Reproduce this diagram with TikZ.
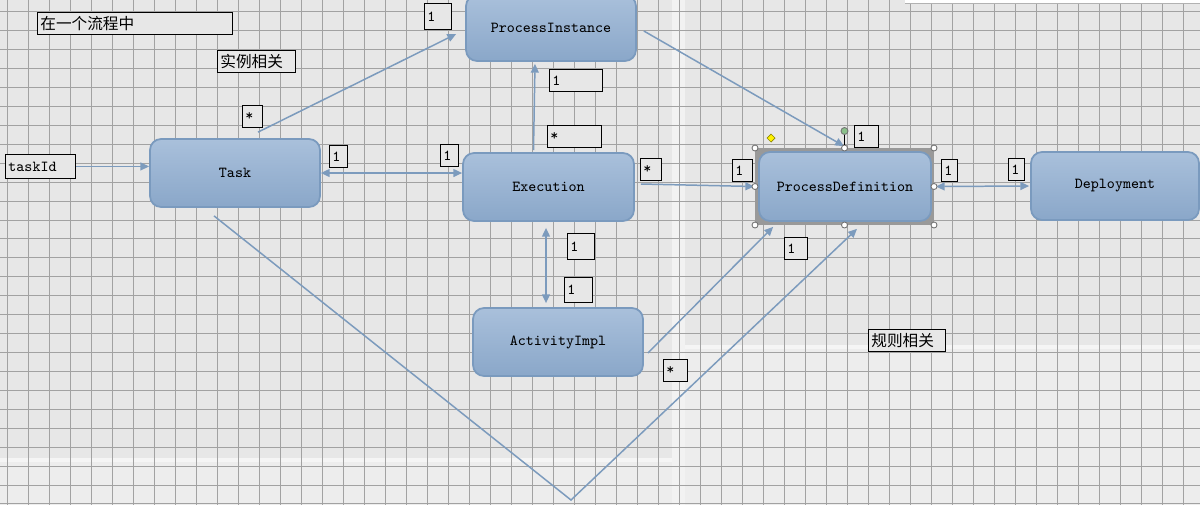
\documentclass[tikz,border=0pt]{standalone}
\usepackage{fontspec}
\newfontfamily\cjk{Noto Sans CJK SC}
\usetikzlibrary{arrows.meta}
\definecolor{bgc}{HTML}{E7E7E7}
\definecolor{gridc}{HTML}{A2A2A2}
\definecolor{lnc}{HTML}{7C9BBD}
\definecolor{topc}{HTML}{A9C0DB}
\definecolor{botc}{HTML}{8AA7C9}
\definecolor{bdc}{HTML}{7A9ABE}
\begin{document}
\begin{tikzpicture}[x=0.02cm, y=-0.02cm,
  cls/.style={draw=bdc, line width=1pt, rounded corners=0.22cm, top color=topc, bottom color=botc, minimum width=3.4cm, minimum height=1.36cm, font=\fontsize{8.7}{10}\selectfont\ttfamily},
  lbl/.style={draw=black, line width=0.5pt, fill=bgc, anchor=north west, inner xsep=0.06cm, inner ysep=0pt, minimum height=0.44cm, align=left, text width=#1, font=\fontsize{8.7}{10}\selectfont\ttfamily},
  link/.style={draw=lnc, line width=0.85pt, -{Triangle[length=5pt,width=4.5pt]}},
  both/.style={draw=lnc, line width=0.85pt, {Triangle[length=5pt,width=4.5pt]}-{Triangle[length=5pt,width=4.5pt]}},
  gridl/.style={draw=gridc, line width=0.5pt}
]
\useasboundingbox (0,0) rectangle (1200,505);
\clip (0,0) rectangle (1200,505);

\fill[bgc] (0,0) rectangle (1200,505);
\fill[bgc!75!white] (0,459) rectangle (680,505);
\fill[bgc!75!white] (685,348) rectangle (1200,505);
\fill[bgc!40!white] (0,458) rectangle (680,462);
\fill[bgc!40!white] (685,345) rectangle (1200,349);
\fill[bgc!55!white] (672,0) rectangle (685,505);
\foreach \i in {0,...,57} \draw[gridl] ({7.3+21*\i},0) -- ({7.3+21*\i},505);
\foreach \j in {0,...,26} \draw[gridl] (0,{11.7+18.93*\j}) -- (1200,{11.7+18.93*\j});
\fill[white] (905,-5) rectangle (1200,3);
\draw[gray!60] (905,3) -- (1200,3);

\fill[black!40] (755,148) rectangle (934,225);

\node[cls] (task) at (235,173) {Task};
\node[cls, minimum height=1.32cm] (pi) at (551,28) {ProcessInstance};
\node[cls, minimum width=3.42cm] (exec) at (548.5,187) {Execution};
\node[cls, minimum width=3.44cm, minimum height=1.38cm] (pd) at (845,186.5) {ProcessDefinition};
\node[cls, minimum width=3.36cm] (dep) at (1115,186) {Deployment};
\node[cls] (ai) at (558,342) {ActivityImpl};

\node[lbl=3.78cm, font=\fontsize{8.9}{10}\selectfont\cjk] (inflow) at (37,12) {在一个流程中};
\node[lbl=1.44cm, font=\fontsize{8.9}{10}\selectfont\cjk] (instrel) at (217,50) {实例相关};
\node[lbl=1.42cm, font=\fontsize{8.9}{10}\selectfont\cjk] (rulerel) at (868,329) {规则相关};
\node[lbl=1.28cm, minimum height=0.48cm] (taskid) at (5,154) {taskId};

\node[lbl=0.28cm] (mtaskpi) at (242,105) {*};
\node[lbl=0.24cm] (mtaskexec) at (329,145) {1};
\node[lbl=0.42cm, minimum height=0.52cm] (mpitask) at (424,3) {1};
\node[lbl=0.94cm] (mpiexec) at (549,69) {1};
\node[lbl=0.96cm] (mexecpi) at (547,125) {*};
\node[lbl=0.24cm] (mexectask) at (440,144) {1};
\node[lbl=0.30cm] (mexecpd) at (640,158) {*};
\node[lbl=0.28cm] (mpdexec) at (732,159) {1};
\node[lbl=0.36cm] (mpdpi) at (854,125) {1};
\node[lbl=0.20cm] (mpddep) at (941,159) {1};
\node[lbl=0.20cm] (mdeppd) at (1008,158) {1};
\node[lbl=0.34cm] (mpdai) at (784,237) {1};
\node[lbl=0.42cm, minimum height=0.52cm] (mexecai) at (567,233) {1};
\node[lbl=0.44cm, minimum height=0.50cm] (maiexec) at (564,277) {1};
\node[lbl=0.36cm] (maipd) at (663,359) {*};

\draw[link] (taskid.east) -- (taskid.east -| task.west);
\draw[both] (task.east) -- (task.east -| exec.west);
\draw[link] ([shift={(23,-6)}]task.north) -- ([shift={(-9,6)}]pi.west);
\draw[link] ([shift={(-15,-2)}]exec.north) -- ([shift={(-16,2)}]pi.south);
\draw[link] ([shift={(7,3)}]pi.east) -- ([shift={(-1,-5)}]pd.north);
\draw[link] ([shift={(6,-3)}]exec.east) -- ([shift={(-4,0)}]pd.west);
\draw[both] ([shift={(4,0)}]pd.east) -- ([shift={(-1,0)}]dep.west);
\draw[both] ([shift={(-2.5,6)}]exec.south) -- ([shift={(-12,-4)}]ai.north);
\draw[link] ([shift={(4,11)}]ai.east) -- ([shift={(15,5)}]pd.south west);
\coordinate (v) at (571,500);
\draw[link] ([shift={(-21,8)}]task.south) -- (v) -- ([shift={(12,7)}]pd.south);

\foreach \p in {(755,148),(844.5,148),(934,148),(755,186.5),(934,186.5),(755,225),(844.5,225),(934,225)}
  \draw[black!55, fill=white, line width=0.5pt] \p circle (3);
\draw[black, line width=0.5pt] (844.5,131) -- (844.5,145);
\draw[black!55, fill=green!30!gray!70, line width=0.5pt] (844.5,131) circle (3.5);
\draw[olive, fill=yellow, line width=0.4pt] (771,134) -- (775,138) -- (771,142) -- (767,138) -- cycle;
\end{tikzpicture}
\end{document}
